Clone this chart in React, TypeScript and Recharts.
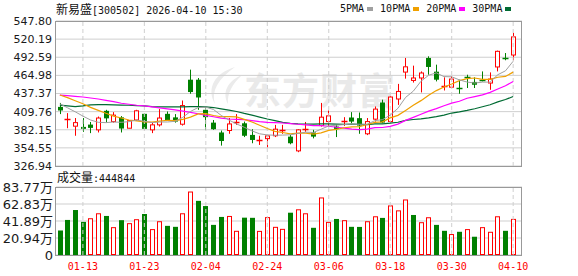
import React from 'react';
import {
  ComposedChart, Bar, Line, XAxis, YAxis, CartesianGrid, ReferenceLine,
} from 'recharts';

// trading days shown
const dates = [
  '01-08', '01-09', '01-12', '01-13', '01-14', '01-15', '01-16', '01-19', '01-20', '01-21',
  '01-22', '01-23', '01-26', '01-27', '01-28', '01-29', '01-30', '02-02', '02-03', '02-04',
  '02-05', '02-06', '02-09', '02-10', '02-11', '02-12', '02-13', '02-24', '02-25', '02-26',
  '02-27', '03-02', '03-03', '03-04', '03-05', '03-06', '03-09', '03-10', '03-11', '03-12',
  '03-13', '03-16', '03-17', '03-18', '03-19', '03-20', '03-23', '03-24', '03-25', '03-26',
  '03-27', '03-30', '03-31', '04-01', '04-02', '04-03', '04-07', '04-08', '04-09', '04-10',
];

const opens = [
  417, 398, 387.6, 386.5, 390, 382, 411, 394.6, 401, 384.5,
  397, 406.4, 382, 389.6, 406.4, 401, 390.6, 458.4, 458.4, 412.5,
  393, 378, 381, 394, 392, 374.3, 366, 368.6, 373, 382,
  371.7, 350, 383, 378, 388.5, 394.6, 387, 396, 400.8, 399.8,
  376, 398.3, 423.7, 394.6, 429, 470, 457.3, 461, 491.5, 470.6,
  448.5, 447, 446.5, 463, 455, 458, 453.3, 477.8, 492, 496,
];
const highs = [
  423, 407.5, 400, 400, 394, 402.3, 412.5, 409, 403, 397,
  412.5, 407.5, 393, 413.6, 410, 406, 426.7, 473.7, 461, 416,
  397, 381, 400, 406, 394.6, 383, 373, 374.3, 389.6, 389.6,
  374.3, 383, 394, 382, 423, 411.4, 389.6, 401.3, 409, 408.4,
  400, 417.6, 428, 433, 452, 491.5, 479.8, 471, 494, 481.3,
  462, 463.4, 458.4, 466, 462, 471, 469.5, 502.7, 499, 529.8,
];
const lows = [
  406, 384.5, 373, 379, 377, 378, 393, 393, 378, 384,
  395.7, 382.5, 377, 387, 396, 393, 388.5, 437, 412.5, 382,
  382, 358, 376, 389.6, 371, 361.6, 359, 355.5, 371, 376,
  360, 348, 379, 369, 387, 388, 371, 388, 392, 376,
  374, 394.6, 392, 393, 420, 460, 454, 439, 466, 455.8,
  442, 445.7, 437, 445.7, 445.7, 455.8, 443, 471, 488, 488,
];
const closes = [
  411.5, 399, 393, 383.5, 385, 400, 399.5, 404.4, 384, 396,
  411, 383.5, 389.6, 400, 397, 394.6, 419, 439.6, 431.3, 401.3,
  383, 365, 391, 395, 373, 366.6, 367.5, 372.8, 383, 383.5,
  361.6, 382, 384.5, 371.7, 401.3, 403.3, 383.5, 397.5, 394.6, 388.5,
  394.6, 413.6, 393.1, 432, 440.5, 478, 461, 468.6, 477.8, 458.4,
  449.8, 459.4, 445, 461.5, 450.7, 457, 459.4, 501.6, 491, 523.6,
];

// volume in shares (hands)
const volumes = [
  302000, 432000, 554000, 408000, 453000, 514000, 481000, 343000, 429000, 392000,
  441000, 505000, 319000, 416000, 359000, 347000, 514000, 782000, 667000, 603000,
  371000, 469000, 481000, 298000, 460000, 458000, 297000, 467000, 347000, 322000,
  521000, 563000, 514000, 335000, 709000, 408000, 444000, 429000, 347000, 346000,
  416000, 477000, 457000, 611000, 550000, 684000, 493000, 404000, 465000, 371000,
  298000, 258000, 286000, 319000, 225000, 343000, 286000, 477000, 298000, 444844,
];

const ma5 = [
  421.7, 415.6, 409.5, 403, 397, 393.5, 393, 394, 393.5, 394.5,
  397, 395, 393, 394, 394, 395, 401, 410, 416, 416.5,
  413, 404, 397, 391, 386, 380.4, 376, 374.3, 373.8, 374,
  374.5, 376.5, 378.5, 378, 383, 388, 389, 390, 391, 390.5,
  390.5, 396, 397.5, 404.5, 414.8, 431.4, 440.9, 456, 465.2, 468.8,
  463.1, 462.8, 458.1, 454.8, 453.3, 454.7, 454.7, 466, 471.9, 486.5,
];
const ma10 = [
  435, 431, 426.3, 421.7, 416.3, 411.7, 407.2, 403, 400, 397,
  395.6, 394, 393.7, 395.4, 396.6, 396, 397.9, 401.4, 406.2, 406.7,
  403.9, 402, 402.2, 401.7, 398, 394, 389, 384, 379.8, 378,
  375.9, 377, 377, 375.5, 377.5, 381.1, 382.7, 385.2, 386.4, 386.9,
  390.2, 393.3, 394.2, 400.2, 404.1, 411.6, 419.3, 426.5, 434.8, 441.8,
  447.3, 451.9, 457, 460, 461, 458.9, 458.8, 462.1, 463.4, 469.9,
];
const ma20 = [
  435, 434, 433, 432, 430.5, 429, 427, 425, 422.5, 421,
  419.5, 418.5, 417, 415.5, 414, 412.5, 410.5, 408.5, 406.5, 404,
  402, 400, 398.5, 398, 397.5, 396, 394.5, 393.5, 393, 392.4,
  391.5, 390.5, 389.5, 388.5, 388.4, 387.5, 386, 384.5, 383, 382.4,
  383, 385.5, 385.6, 387.4, 390.8, 396.4, 401, 405.8, 410.6, 414.3,
  418.7, 422.6, 425.6, 430.1, 432.6, 435.3, 439.1, 444.3, 449.1, 455.8,
];
const ma30 = [
  419.7, 418.5, 417.5, 418.5, 420, 420.5, 420.5, 420, 419.7, 419.5,
  419, 418.5, 417.5, 417, 417, 417, 417, 417.3, 417.3, 417,
  416, 414, 412, 410, 407, 404.4, 401.5, 398.5, 396, 393.5,
  391.8, 391.2, 390.9, 390.6, 391.1, 391.2, 390.7, 390.4, 390.8, 390.5,
  390, 391, 391.1, 392.2, 393.6, 396.4, 397.8, 398.8, 400.3, 402.2,
  404.4, 407.6, 409.4, 411.6, 414.2, 417.2, 420.3, 424.6, 428.2, 432.8,
];

const dateTicks = ['01-13', '01-23', '02-04', '02-24', '03-06', '03-18', '03-30', '04-10'];
const priceTicks = [326.94, 354.55, 382.15, 409.76, 437.37, 464.98, 492.59, 520.19, 547.8];
const volTicks = [0, 209425, 418850, 628275, 837700];
const volTickLabels = ['0', '20.94万', '41.89万', '62.83万', '83.77万'];

const stockName = '新易盛';
const stockCode = '300502';
const stamp = '2026-04-10 15:30';
const maNames = ['5PMA', '10PMA', '20PMA', '30PMA'];
const maColors = ['#a0a0a0', '#f0a000', '#ff00ff', '#006b33'];

const RED = '#ff0000';
const GREEN = '#008000';
const GRID = '#cfcfcf';
const MONO = '"DejaVu Sans Mono", monospace';
const CJK = '"Noto Sans CJK SC", sans-serif';

const rows = dates.map((date, i) => ({
  date,
  open: opens[i],
  high: highs[i],
  low: lows[i],
  close: closes[i],
  range: [lows[i], highs[i]],
  vol: volumes[i],
  // volume colour follows close vs previous close (first day was a down day)
  up: i > 0 && closes[i] >= closes[i - 1],
  ma5: ma5[i],
  ma10: ma10[i],
  ma20: ma20[i],
  ma30: ma30[i],
}));

const Candle = (props: any) => {
  const { x, y, width, height, payload } = props;
  const { open, close, high, low } = payload;
  const top = Math.min(y, y + height);
  const h = Math.abs(height);
  const span = high - low || 1;
  const toY = (v: number) => top + ((high - v) / span) * h;
  const cx = Math.round(x + width / 2) + 0.5;
  const yo = toY(open);
  const yc = toY(close);
  const bTop = Math.min(yo, yc);
  const bBot = Math.max(yo, yc);
  const rising = close >= open;
  const color = rising ? RED : GREEN;

  if (bBot - bTop < 1.5) {
    const yy = Math.round(yo) + 0.5;
    return (
      <g>
        <line x1={cx} x2={cx} y1={top} y2={top + h} stroke={color} />
        <line x1={cx - 3} x2={cx + 3} y1={yy} y2={yy} stroke={color} strokeWidth={1.5} />
      </g>
    );
  }
  if (rising) {
    return (
      <g>
        <line x1={cx} x2={cx} y1={top} y2={bTop} stroke={color} />
        <line x1={cx} x2={cx} y1={bBot} y2={top + h} stroke={color} />
        <rect x={cx - 2} y={bTop} width={4} height={bBot - bTop} fill="#fff" stroke={color} />
      </g>
    );
  }
  return (
    <g>
      <line x1={cx} x2={cx} y1={top} y2={top + h} stroke={color} />
      <rect x={cx - 2.5} y={bTop} width={5} height={bBot - bTop} fill={color} />
    </g>
  );
};

const VolBar = (props: any) => {
  const { x, y, width, height, payload } = props;
  const cx = Math.round(x + width / 2) + 0.5;
  const top = Math.min(y, y + height);
  const h = Math.abs(height);
  if (payload.up) {
    return (
      <rect x={cx - 2} y={top + 0.5} width={4} height={Math.max(h - 1, 0)} fill="#fff" stroke={RED} />
    );
  }
  return <rect x={cx - 2.5} y={top} width={5} height={h} fill={GREEN} />;
};

const DateTick = (props: any) => {
  const { x, y, payload } = props;
  if (!dateTicks.includes(payload.value)) return null;
  return (
    <text x={x} y={y + 15} textAnchor="middle" fill={RED} fontSize={10} fontFamily={MONO}>
      {payload.value}
    </text>
  );
};

const App = () => {
  return (
    <div style={{ position: 'absolute', left: 0, top: 0, width: 578, height: 276, background: '#fff', overflow: 'hidden' }}>
      {/* title */}
      <div style={{ position: 'absolute', left: 56, top: 2, lineHeight: '14px', whiteSpace: 'nowrap', color: '#111' }}>
        <span style={{ fontFamily: CJK, fontSize: 12 }}>{stockName}</span>
        <span style={{ fontFamily: MONO, fontSize: 10 }}>[{stockCode}] {stamp}</span>
      </div>
      {/* legend */}
      <div style={{ position: 'absolute', left: 340, top: 2, display: 'flex', alignItems: 'center', lineHeight: '14px', whiteSpace: 'nowrap' }}>
        {maNames.map((n, i) => (
          <div key={n} style={{ display: 'flex', alignItems: 'center', marginRight: 7 }}>
            <span style={{ fontFamily: MONO, fontSize: 10, color: '#111' }}>{n}</span>
            <span style={{ display: 'inline-block', width: 6, height: 4, marginLeft: 3, background: maColors[i] }} />
          </div>
        ))}
      </div>

      {/* watermark */}
      <svg style={{ position: 'absolute', left: 203, top: 66 }} width={42} height={40}>
        <path d="M32 1 C 12 7, 3 22, 12 38 C 8 25, 15 13, 32 1 Z" fill="#ebebeb" />
        <path d="M39 9 C 24 15, 19 27, 25 38 C 24 28, 29 18, 39 9 Z" fill="#ebebeb" />
      </svg>
      <div style={{ position: 'absolute', left: 244, top: 62, fontFamily: CJK, fontWeight: 700, fontSize: 37, color: '#e9e9e9', letterSpacing: 1, whiteSpace: 'nowrap' }}>
        东方财富
      </div>

      <div style={{ position: 'absolute', left: 0, top: 0 }}>
        <ComposedChart width={578} height={178} data={rows} margin={{ top: 21, right: 56, bottom: 12, left: 0 }}>
          <CartesianGrid vertical={false} stroke={GRID} />
          <XAxis dataKey="date" hide padding={{ left: 0, right: 5 }} />
          <YAxis
            domain={[326.94, 547.8]}
            ticks={priceTicks}
            interval={0}
            allowDataOverflow
            width={56}
            axisLine={false}
            tickLine={false}
            tickSize={0}
            tickMargin={4}
            tickFormatter={(v: number) => v.toFixed(2)}
            tick={{ fontSize: 11, fill: '#1a1a1a', fontFamily: '"DejaVu Sans", sans-serif' }}
          />
          {dateTicks.map((d) => (
            <ReferenceLine key={d} x={d} stroke={GRID} strokeDasharray="4 3" />
          ))}
          <Bar dataKey="range" barSize={5} shape={(p: any) => <Candle {...p} />} isAnimationActive={false} />
          <Line type="linear" dataKey="ma30" stroke={maColors[3]} strokeWidth={1.2} dot={false} isAnimationActive={false} />
          <Line type="linear" dataKey="ma20" stroke={maColors[2]} strokeWidth={1.2} dot={false} isAnimationActive={false} />
          <Line type="linear" dataKey="ma10" stroke={maColors[1]} strokeWidth={1.2} dot={false} isAnimationActive={false} />
          <Line type="linear" dataKey="ma5" stroke={maColors[0]} strokeWidth={1} dot={false} isAnimationActive={false} />
        </ComposedChart>
      </div>
      <div style={{ position: 'absolute', left: 55, top: 21, width: 467, height: 146, border: '1px solid #999', boxSizing: 'border-box', pointerEvents: 'none' }} />

      {/* volume panel */}
      <div style={{ position: 'absolute', left: 57, top: 170, lineHeight: '14px', whiteSpace: 'nowrap', color: '#111' }}>
        <span style={{ fontFamily: CJK, fontSize: 12 }}>成交量</span>
        <span style={{ fontFamily: MONO, fontSize: 10 }}>:{volumes[volumes.length - 1]}</span>
      </div>
      <div style={{ position: 'absolute', left: 0, top: 170 }}>
        <ComposedChart width={578} height={106} data={rows} margin={{ top: 17, right: 56, bottom: 0, left: 0 }}>
          <CartesianGrid vertical={false} stroke={GRID} />
          <XAxis
            dataKey="date"
            padding={{ left: 0, right: 5 }}
            interval={0}
            height={21}
            axisLine={false}
            tickLine={false}
            tickSize={0}
            tickMargin={0}
            tick={(p: any) => <DateTick {...p} />}
          />
          <YAxis
            domain={[0, 837700]}
            ticks={volTicks}
            interval={0}
            width={56}
            axisLine={false}
            tickLine={false}
            tickSize={0}
            tickMargin={3}
            tickFormatter={(v: number) => volTickLabels[volTicks.indexOf(v)]}
            tick={{ fontSize: 13, fill: '#1a1a1a', fontFamily: '"DejaVu Sans", "Noto Sans CJK SC", sans-serif' }}
          />
          {dateTicks.map((d) => (
            <ReferenceLine key={d} x={d} stroke={GRID} strokeDasharray="4 3" />
          ))}
          <Bar dataKey="vol" barSize={5} shape={(p: any) => <VolBar {...p} />} isAnimationActive={false} />
        </ComposedChart>
      </div>
      <div style={{ position: 'absolute', left: 55, top: 187, width: 467, height: 69, border: '1px solid #999', boxSizing: 'border-box', pointerEvents: 'none' }} />
    </div>
  );
};

export default App;
